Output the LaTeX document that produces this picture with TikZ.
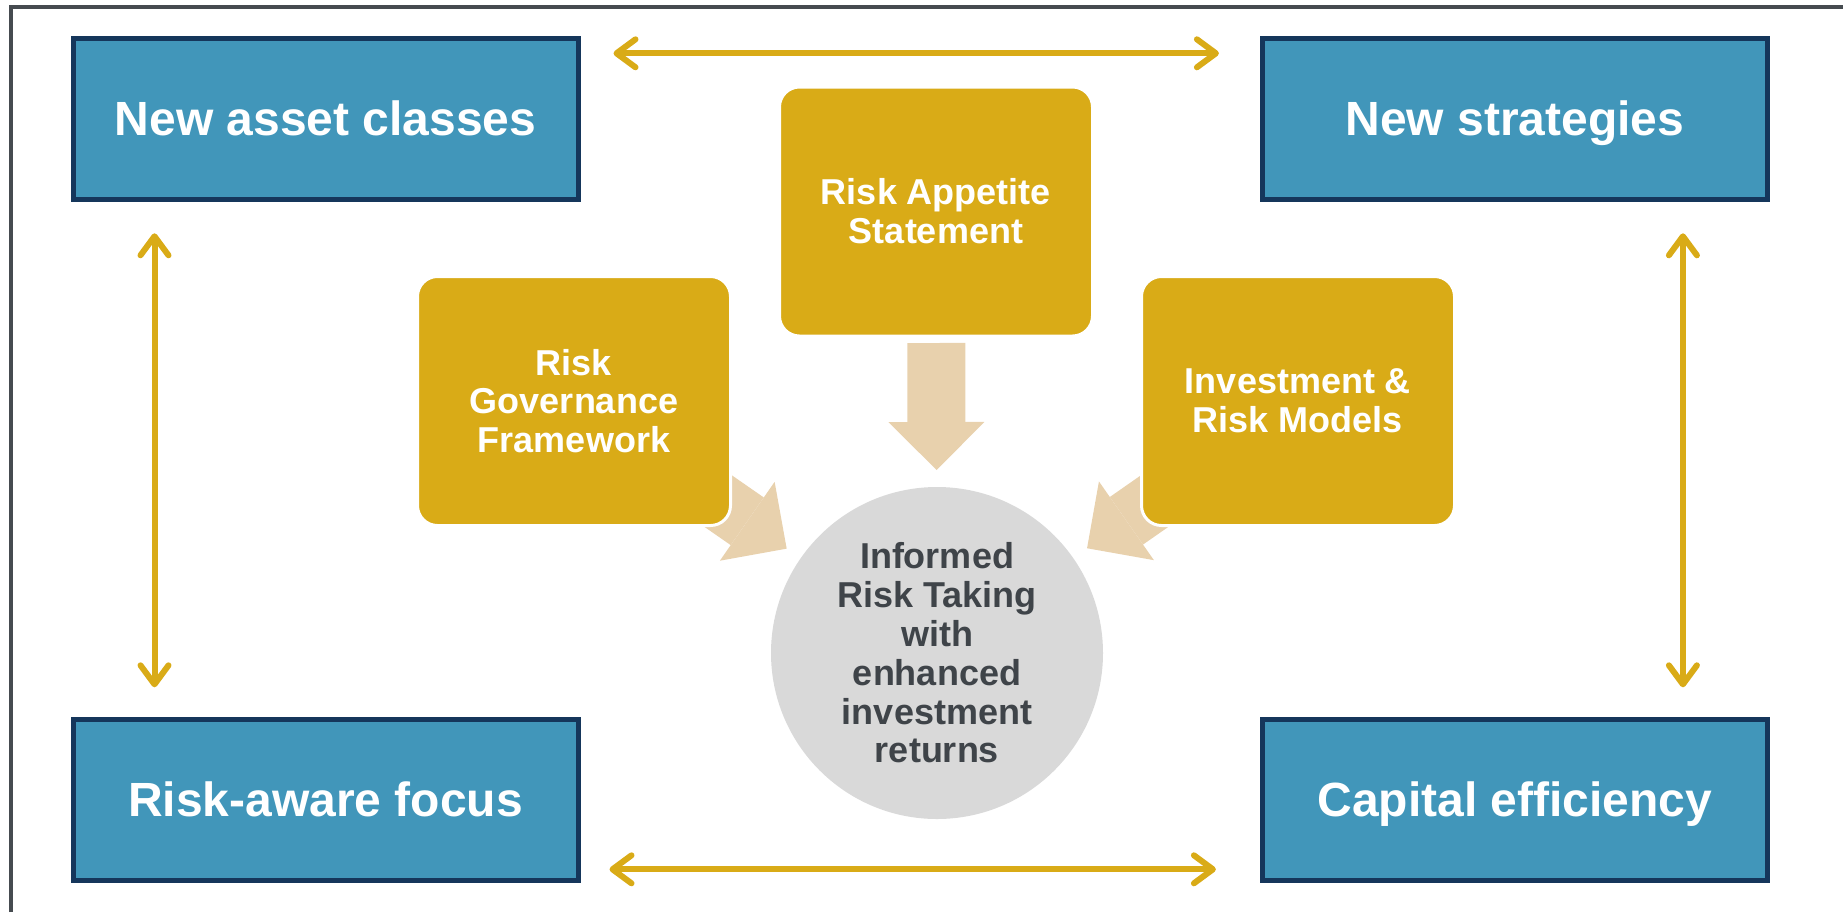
\documentclass[tikz,border=0pt]{standalone}
\usepackage{fontspec}
\setmainfont{Liberation Sans}
\usetikzlibrary{arrows.meta, positioning, calc, backgrounds}

\definecolor{boxblue}{HTML}{4196BA}
\definecolor{boxnavy}{HTML}{15365B}
\definecolor{gold}{HTML}{D9AB17}
\definecolor{sand}{HTML}{E8D1AD}
\definecolor{hubgray}{HTML}{D9D9D9}
\definecolor{hubtext}{HTML}{3F4449}
\definecolor{framegray}{HTML}{464B50}

\begin{document}
\begin{tikzpicture}[
  x=0.5pt, y=-0.5pt,
  corner/.style={rectangle, draw=boxnavy, line width=2.5pt, fill=boxblue, minimum width=252.5pt, minimum height=80.5pt, inner sep=0pt, text height=21pt, text depth=5pt, text=white, font=\fontsize{24}{29}\selectfont\bfseries},
  pillar/.style={rectangle, rounded corners=10pt, draw=white, line width=1.5pt, fill=gold, minimum width=156.5pt, minimum height=124.5pt, align=center, text=white, font=\fontsize{18}{19.4}\selectfont\bfseries},
  hub/.style={circle, fill=hubgray, minimum size=166pt, inner sep=0pt, align=center, text=hubtext, font=\fontsize{18}{19.4}\selectfont\bfseries},
  link/.style={draw=gold, line width=3pt, {Straight Barb[round,length=9.5pt,width=14pt]}-{Straight Barb[round,length=9.5pt,width=14pt]}},
  feed/.style={draw=sand, line width=29pt, -{Triangle[length=24pt,width=48pt,line width=0pt]}, shorten <=65.75pt, shorten >=91.5pt}
]
\useasboundingbox (0,0) rectangle (1843,912);
\draw[framegray, line width=2pt] (11,912) -- (11,7) -- (1843,7);

% four outcome boxes
\node (newasset) [corner] at (325.5,119.3) {New asset classes};
\node (newstrat) [corner, right=339.7pt of newasset] {New strategies};
\node (riskaware) [corner, below=257.5pt of newasset] {Risk-aware focus};
\node (capital) [corner, below=257.5pt of newstrat] {Capital efficiency};

% three pillars and the centre
\node (appetite) [pillar] at (936,211.5) {Risk Appetite\\Statement};
\node (governance) [pillar] at (574,401) {Risk\\Governance\\Framework};
\node (models) [pillar] at (1298,401) {Investment \&\\Risk Models};
\node (hub) [hub] at (937,653) {Informed\\Risk Taking\\with\\enhanced\\investment\\returns};

\begin{scope}[on background layer]
  \draw[feed] (appetite.center) -- (hub.center);
  \draw[feed] (governance.center) -- (hub.center);
  \draw[feed] (models.center) -- (hub.center);
\end{scope}

\draw[link] ($(newasset.north east)+(33,17)$) -- ($(newstrat.north west)+(-41,17)$);
\draw[link] ($(riskaware.south east)+(29,-14)$) -- ($(capital.south west)+(-44,-14)$);
\draw[link] ($(newasset.south west)+(84,31)$) -- ($(riskaware.north west)+(84,-30)$);
\draw[link] ($(newstrat.south east)+(-87,31)$) -- ($(capital.north east)+(-87,-30)$);

\end{tikzpicture}
\end{document}
